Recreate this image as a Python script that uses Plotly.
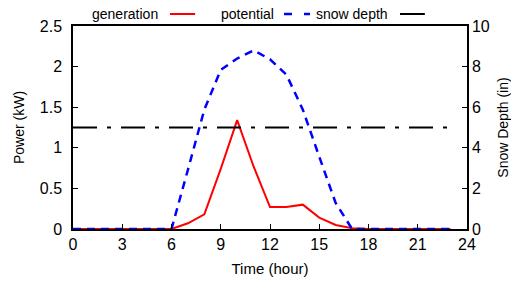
import plotly.graph_objects as go

hours = list(range(24))
generation = [0, 0, 0, 0, 0, 0, 0, 0.07, 0.18, 0.74, 1.34, 0.77, 0.27, 0.27, 0.30, 0.14, 0.05, 0.01,
              0, 0, 0, 0, 0, 0]
potential = [0, 0, 0, 0, 0, 0, 0, 0.73, 1.47, 1.96, 2.10, 2.20, 2.09, 1.90, 1.47, 0.89, 0.32, 0,
             0, 0, 0, 0, 0, 0]
snow_depth = [5] * 24
series_names = ["generation", "potential", "snow depth"]
x_ticks = [0, 3, 6, 9, 12, 15, 18, 21, 24]
y_ticks = [0, 0.5, 1, 1.5, 2, 2.5]
y2_ticks = [0, 2, 4, 6, 8, 10]

FONT = "Liberation Sans, Arial, Helvetica, sans-serif"

fig = go.Figure()
fig.add_trace(go.Scatter(x=hours, y=generation, mode="lines", name=series_names[0],
                         line=dict(color="#ff0000", width=2), showlegend=False))
fig.add_trace(go.Scatter(x=hours, y=potential, mode="lines", name=series_names[1],
                         line=dict(color="#0000ff", width=2.5, dash="8px,6px"), showlegend=False))
fig.add_trace(go.Scatter(x=hours, y=snow_depth, mode="lines", name=series_names[2], yaxis="y2",
                         line=dict(color="#000000", width=2, dash="24px,10px,4px,10px"),
                         showlegend=False))

# manual gnuplot-style legend (text then sample)
leg_y = 1.059
legend_items = [
    (series_names[0], 0.2208, 0.246, 0.310, dict(color="#ff0000", width=2)),
    (series_names[1], 0.515, 0.5355, 0.6015, dict(color="#0000ff", width=2.5, dash="8px,12px")),
    (series_names[2], 0.8046, 0.830, 0.893, dict(color="#000000", width=2)),
]
annotations = []
shapes = []
for name, tx, x0, x1, ln in legend_items:
    annotations.append(dict(text=name, x=tx, y=leg_y, xref="paper", yref="paper",
                            xanchor="right", yanchor="middle", showarrow=False,
                            font=dict(size=14, family=FONT, color="#000")))
    shapes.append(dict(type="line", xref="paper", yref="paper", x0=x0, x1=x1, y0=leg_y, y1=leg_y,
                       line=ln))

axis_common = dict(showline=True, linecolor="#000", linewidth=1.5, ticks="inside", ticklen=5,
                   tickcolor="#000", tickwidth=1, showgrid=False, zeroline=False, automargin=False,
                   tickfont=dict(size=16, family=FONT, color="#000"))

fig.update_layout(
    width=511, height=286,
    margin=dict(l=73, r=44, t=26, b=57),
    paper_bgcolor="white", plot_bgcolor="white",
    font=dict(family=FONT, color="#000"),
    showlegend=False,
    xaxis=dict(range=[0, 24], tickvals=x_ticks, mirror=True,
               title=dict(text="Time (hour)", font=dict(size=15, family=FONT), standoff=12),
               ticklabelstandoff=0, **axis_common),
    yaxis=dict(range=[0, 2.5], tickvals=y_ticks, ticktext=[f"{v:g}" for v in y_ticks],
               title=dict(text="Power (kW)", font=dict(size=14, family=FONT), standoff=12),
               ticklabelstandoff=6, **axis_common),
    yaxis2=dict(range=[0, 10], tickvals=y2_ticks, overlaying="y", side="right",
                title=dict(text="Snow Depth (in)", font=dict(size=14, family=FONT), standoff=9),
                ticklabelstandoff=0, **axis_common),
    annotations=annotations,
    shapes=shapes,
)

fig.write_html("out.html", config={"displayModeBar": False},
               post_script="document.body.style.margin='0px';document.body.style.overflow='hidden';")
